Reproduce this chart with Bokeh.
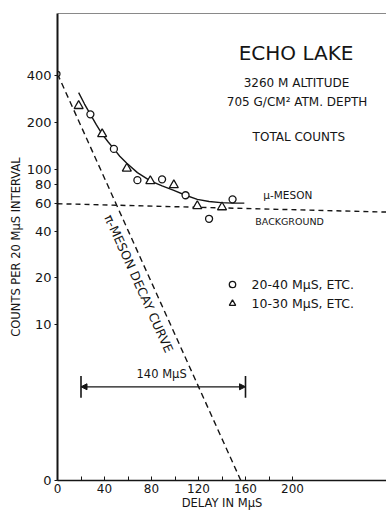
from bokeh.plotting import figure
from bokeh.models import (Range1d, FixedTicker, Span, Label, Arrow, NormalHead,
                          Legend, LegendItem)
from bokeh.embed import file_html
from bokeh.resources import INLINE

# ---------------- data ----------------
circle_delay = [28, 48, 68, 89, 109, 129, 149]          # 20-40 mμs, etc.
circle_counts = [225, 135, 85, 86, 68, 48, 64]
triangle_delay = [18, 38, 59, 79, 99, 119, 140]         # 10-30 mμs, etc.
triangle_counts = [255, 168, 101, 84, 79, 58, 57]

fit_delay = [18, 23, 28, 33, 38, 43, 48, 53, 59, 68, 79, 89, 99, 109, 119, 129, 139, 149, 159]
fit_counts = [310, 262, 225, 193, 168, 150, 135, 121, 109, 95, 84, 78, 73, 68, 64, 62, 61, 60.5, 60.5]

decay_delay = [0, 156]        # π-meson decay curve
decay_counts = [409, 1]
start_delay = [0]
start_counts = [409]

background_delay = [0, 280]   # μ-meson background
background_counts = [60, 53]

arrow_delay = [20, 160]       # 140 mμs marker
arrow_level = 4
arrow_bar_low, arrow_bar_high = 3.4, 4.7

x_major_ticks = [0, 40, 80, 120, 160, 200]
x_minor_ticks = [20, 60, 100, 140, 180]
y_ticks = [1, 10, 20, 40, 60, 80, 100, 200, 400]
y_tick_labels = ["0", "10", "20", "40", "60", "80", "100", "200", "400"]

FONT = "DejaVu Sans"
INK = "#151515"

p = figure(width=386, height=512, output_backend="svg", toolbar_location=None,
           x_range=Range1d(0, 280), y_range=Range1d(1, 1000), y_axis_type="log",
           min_border_left=57, min_border_right=0, min_border_top=13, min_border_bottom=30)
p.outline_line_color = None
p.grid.visible = False
p.background_fill_color = "white"
p.border_fill_color = "white"

# axes
p.xaxis.ticker = FixedTicker(ticks=x_major_ticks, minor_ticks=x_minor_ticks)
p.xaxis.major_tick_in = 4
p.xaxis.major_tick_out = 0
p.xaxis.minor_tick_in = 4
p.xaxis.minor_tick_out = 0
p.xaxis.axis_line_width = 1.6
p.xaxis.axis_line_color = INK
p.xaxis.major_tick_line_color = INK
p.xaxis.minor_tick_line_color = INK
p.xaxis.major_label_text_font = FONT
p.xaxis.major_label_text_font_size = "12px"
p.xaxis.major_label_text_color = INK
p.xaxis.major_label_standoff = 3
p.xaxis.axis_label = "DELAY IN MμS"
p.xaxis.axis_label_text_font = FONT
p.xaxis.axis_label_text_font_size = "11.5px"
p.xaxis.axis_label_text_font_style = "normal"
p.xaxis.axis_label_text_color = INK
p.xaxis.axis_label_standoff = 0

p.yaxis.ticker = FixedTicker(ticks=y_ticks)
p.yaxis.major_label_overrides = {t: s for t, s in zip(y_ticks, y_tick_labels)}
p.yaxis.major_tick_in = 0
p.yaxis.major_tick_out = 3
p.yaxis.minor_tick_line_color = None
p.yaxis.axis_line_width = 2
p.yaxis.axis_line_color = INK
p.yaxis.major_tick_line_color = INK
p.yaxis.major_label_text_font = FONT
p.yaxis.major_label_text_font_size = "13px"
p.yaxis.major_label_text_color = INK
p.yaxis.major_label_standoff = 3
p.yaxis.axis_label = "COUNTS PER 20 MμS INTERVAL"
p.yaxis.axis_label_text_font = FONT
p.yaxis.axis_label_text_font_size = "11.5px"
p.yaxis.axis_label_text_font_style = "normal"
p.yaxis.axis_label_text_color = INK
p.yaxis.axis_label_standoff = 1

# top frame line
p.add_layout(Span(location=1000, dimension="width", line_color=INK, line_width=1.2))

# curves
p.line(background_delay, background_counts, line_color=INK, line_width=1.4, line_dash="5 4")
p.line(decay_delay, decay_counts, line_color=INK, line_width=1.4, line_dash="6 4")
p.line(fit_delay, fit_counts, line_color=INK, line_width=1.4)
p.scatter(start_delay, start_counts, marker="circle", size=5, fill_color="white",
          line_color=INK, line_width=1.2)

circ = p.scatter(circle_delay, circle_counts, marker="circle", size=7, fill_color="white",
                 line_color=INK, line_width=1.3)
tri = p.scatter(triangle_delay, triangle_counts, marker="triangle", size=9, fill_color="white",
                line_color=INK, line_width=1.3)

# 140 mμs marker
p.add_layout(Arrow(x_start=arrow_delay[0], y_start=arrow_level, x_end=arrow_delay[1], y_end=arrow_level,
                   line_color=INK, line_width=1.3,
                   start=NormalHead(size=6, fill_color=INK, line_color=INK),
                   end=NormalHead(size=6, fill_color=INK, line_color=INK)))
p.segment(x0=arrow_delay, y0=[arrow_bar_low] * 2, x1=arrow_delay, y1=[arrow_bar_high] * 2,
          line_color=INK, line_width=1.6)

def lab(x, y, text, size="11.5px", angle=0.0):
    p.add_layout(Label(x=x, y=y, text=text, text_font=FONT, text_font_size=size,
                       text_color=INK, text_align="center", text_baseline="middle", angle=angle))

lab(203, 557, "ECHO LAKE", "20px")
lab(205, 359, "3260 M  ALTITUDE", "12px")
lab(205.5, 271, "705 G/CM²  ATM. DEPTH", "12px")
lab(207, 161, "TOTAL  COUNTS", "12px")
lab(196, 68, "μ-MESON", "10.5px")
lab(197.5, 45.8, "BACKGROUND", "9.5px")
lab(88.6, 4.82, "140 MμS")
lab(69.2, 18.4, "π-MESON DECAY CURVE", "12.5px", angle=-1.148)

legend = Legend(items=[LegendItem(label="20-40 MμS, ETC.", renderers=[circ]),
                       LegendItem(label="10-30 MμS, ETC.", renderers=[tri])],
                location=(164.6, 169), border_line_color=None, background_fill_alpha=0,
                padding=0, margin=0, spacing=3, glyph_width=20, glyph_height=16,
                label_height=16, label_standoff=10, label_text_font=FONT,
                label_text_font_size="12.5px", label_text_color=INK)
p.add_layout(legend)

open("out.html", "w").write(file_html(p, INLINE))
